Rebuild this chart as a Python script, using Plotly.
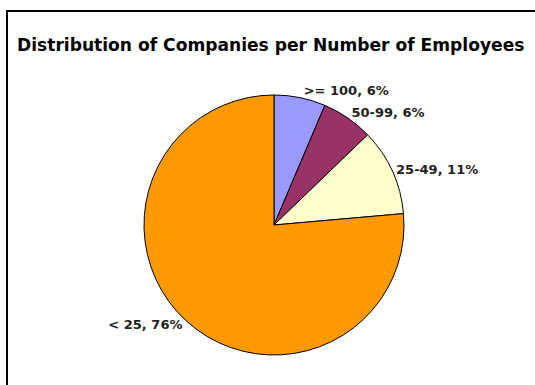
import plotly.graph_objects as go

labels = [">= 100", "50-99", "25-49", "< 25"]
values = [6.4, 6.4, 10.8, 76.4]
colors = ["#9999FF", "#993366", "#FFFFCC", "#FF9900"]

W, H = 535, 385
cx, cy, r = 274, 225, 130

lbl_font = dict(family="DejaVu Sans", size=13, color="#222222", weight="bold")

fig = go.Figure(go.Pie(
    labels=labels,
    values=values,
    sort=False,
    direction="clockwise",
    rotation=0,
    marker=dict(colors=colors, line=dict(color="#000000", width=1)),
    texttemplate="%{label}, %{percent:.0%}",
    textposition="outside",
    textfont=lbl_font,
    outsidetextfont=lbl_font,
    showlegend=False,
    hoverinfo="label+percent",
    domain=dict(x=[(cx - r) / W, (cx + r) / W], y=[1 - (cy + r) / H, 1 - (cy - r) / H]),
    automargin=False,
))

fig.update_layout(
    width=W, height=H,
    margin=dict(l=0, r=0, t=0, b=0),
    paper_bgcolor="white",
    title=dict(text="<b>Distribution of Companies per Number of Employees</b>",
               x=17 / W, xanchor="left", y=1 - 45 / H, yanchor="middle",
               font=dict(family="DejaVu Sans", size=17.1, color="#000000")),
    shapes=[dict(type="rect", xref="paper", yref="paper",
                 x0=7 / W, x1=1.05, y0=-0.05, y1=1 - 11 / H,
                 line=dict(color="black", width=2), fillcolor="rgba(0,0,0,0)")],
)

fig.write_html("out.html")
